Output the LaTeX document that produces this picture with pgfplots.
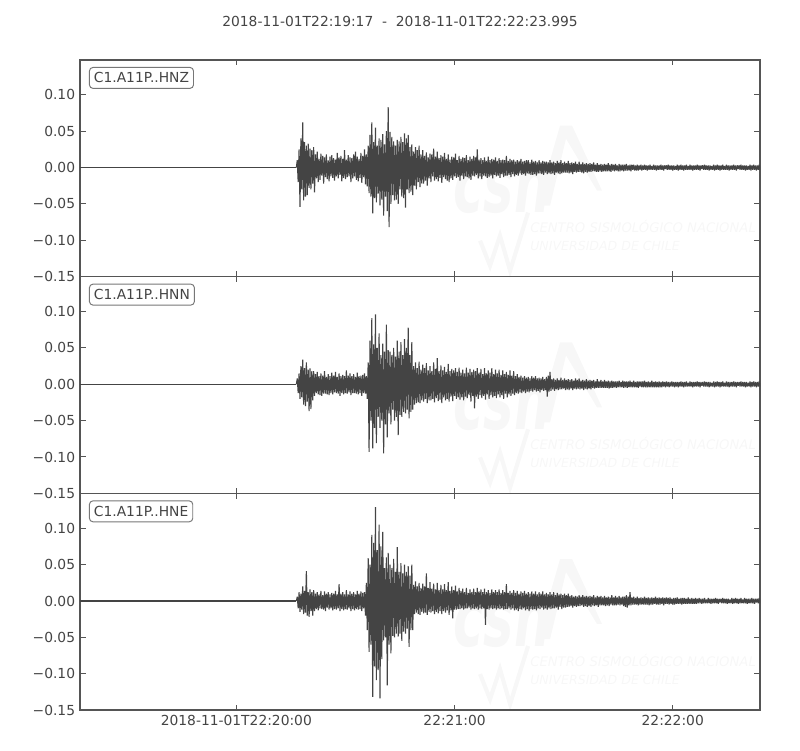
\documentclass[border=0pt]{standalone}
\usepackage{fontspec}
\setmainfont{DejaVu Sans}
\usepackage{pgfplots}
\usepackage{pgfplotstable}
\pgfplotsset{compat=1.18}

\definecolor{wavec}{HTML}{444444}
\definecolor{axc}{HTML}{555555}
\definecolor{txt}{HTML}{444444}
\definecolor{boxc}{HTML}{777777}
\definecolor{wm}{HTML}{F7F7F7}

% samples every 0.25 s from t = 59.5 s after 22:19:17, 20 samples (5 s) per line
\pgfplotstableread[row sep=\\,header=false]{
0\\ 0.010\\ -0.020\\ 0.025\\ -0.054\\ 0.040\\ -0.030\\ 0.062\\ -0.045\\ 0.035\\ -0.040\\ 0.030\\ -0.038\\ 0.033\\ -0.028\\ 0.026\\ -0.030\\ 0.024\\ -0.022\\ 0.028\\
-0.034\\ 0.018\\ -0.015\\ 0.022\\ -0.020\\ 0.012\\ -0.017\\ 0.019\\ -0.011\\ 0.016\\ -0.022\\ 0.014\\ -0.013\\ 0.018\\ -0.016\\ 0.010\\ -0.019\\ 0.015\\ -0.012\\ 0.017\\
-0.014\\ 0.013\\ -0.018\\ 0.011\\ -0.012\\ 0.020\\ -0.015\\ 0.014\\ -0.010\\ 0.016\\ -0.019\\ 0.012\\ -0.014\\ 0.024\\ -0.016\\ 0.011\\ -0.013\\ 0.017\\ -0.012\\ 0.014\\
-0.020\\ 0.013\\ -0.015\\ 0.018\\ -0.012\\ 0.022\\ -0.017\\ 0.015\\ -0.019\\ 0.012\\ -0.014\\ 0.020\\ -0.021\\ 0.016\\ -0.013\\ 0.025\\ -0.023\\ 0.018\\ -0.026\\ 0.030\\
-0.035\\ 0.045\\ -0.040\\ 0.062\\ -0.063\\ 0.035\\ -0.042\\ 0.055\\ -0.048\\ 0.030\\ -0.036\\ 0.040\\ -0.052\\ 0.038\\ -0.044\\ 0.046\\ -0.066\\ 0.032\\ -0.040\\ 0.050\\
-0.060\\ 0.083\\ -0.082\\ 0.049\\ -0.050\\ 0.042\\ -0.038\\ 0.036\\ -0.045\\ 0.030\\ -0.044\\ 0.038\\ -0.050\\ 0.036\\ -0.030\\ 0.042\\ -0.040\\ 0.035\\ -0.042\\ 0.047\\
-0.055\\ 0.040\\ -0.030\\ 0.045\\ -0.035\\ 0.028\\ -0.033\\ 0.032\\ -0.038\\ 0.022\\ -0.025\\ 0.028\\ -0.030\\ 0.024\\ -0.020\\ 0.030\\ -0.027\\ 0.018\\ -0.022\\ 0.024\\
-0.022\\ 0.016\\ -0.018\\ 0.021\\ -0.025\\ 0.014\\ -0.015\\ 0.019\\ -0.020\\ 0.018\\ -0.012\\ 0.026\\ -0.018\\ 0.015\\ -0.016\\ 0.022\\ -0.019\\ 0.013\\ -0.014\\ 0.017\\
-0.021\\ 0.015\\ -0.013\\ 0.020\\ -0.016\\ 0.012\\ -0.018\\ 0.018\\ -0.020\\ 0.011\\ -0.015\\ 0.015\\ -0.017\\ 0.014\\ -0.012\\ 0.019\\ -0.014\\ 0.010\\ -0.013\\ 0.016\\
-0.018\\ 0.012\\ -0.011\\ 0.014\\ -0.016\\ 0.013\\ -0.012\\ 0.017\\ -0.013\\ 0.010\\ -0.015\\ 0.015\\ -0.017\\ 0.012\\ -0.011\\ 0.016\\ -0.012\\ 0.014\\ -0.010\\ 0.025\\
-0.015\\ 0.011\\ -0.012\\ 0.013\\ -0.016\\ 0.010\\ -0.011\\ 0.014\\ -0.012\\ 0.009\\ -0.014\\ 0.015\\ -0.013\\ 0.010\\ -0.011\\ 0.012\\ -0.015\\ 0.011\\ -0.010\\ 0.014\\
-0.012\\ 0.009\\ -0.011\\ 0.013\\ -0.014\\ 0.010\\ -0.009\\ 0.011\\ -0.013\\ 0.010\\ -0.011\\ 0.016\\ -0.011\\ 0.009\\ -0.010\\ 0.012\\ -0.013\\ 0.010\\ -0.009\\ 0.011\\
-0.012\\ 0.008\\ -0.010\\ 0.010\\ -0.011\\ 0.009\\ -0.008\\ 0.012\\ -0.010\\ 0.008\\ -0.009\\ 0.009\\ -0.011\\ 0.010\\ -0.008\\ 0.010\\ -0.009\\ 0.007\\ -0.010\\ 0.011\\
-0.010\\ 0.008\\ -0.009\\ 0.009\\ -0.011\\ 0.007\\ -0.008\\ 0.010\\ -0.008\\ 0.007\\ -0.009\\ 0.009\\ -0.010\\ 0.008\\ -0.007\\ 0.008\\ -0.009\\ 0.007\\ -0.008\\ 0.010\\
-0.009\\ 0.007\\ -0.008\\ 0.008\\ -0.010\\ 0.006\\ -0.007\\ 0.009\\ -0.008\\ 0.007\\ -0.009\\ 0.010\\ -0.008\\ 0.006\\ -0.007\\ 0.008\\ -0.007\\ 0.006\\ -0.007\\ 0.009\\
-0.008\\ 0.006\\ -0.007\\ 0.007\\ -0.009\\ 0.006\\ -0.006\\ 0.008\\ -0.007\\ 0.005\\ -0.006\\ 0.008\\ -0.006\\ 0.005\\ -0.007\\ 0.007\\ -0.008\\ 0.005\\ -0.006\\ 0.006\\
-0.007\\ 0.005\\ -0.006\\ 0.006\\ -0.006\\ 0.005\\ -0.005\\ 0.007\\ -0.005\\ 0.004\\ -0.006\\ 0.006\\ -0.006\\ 0.004\\ -0.005\\ 0.005\\ -0.006\\ 0.004\\ -0.005\\ 0.005\\
-0.005\\ 0.004\\ -0.005\\ 0.006\\ -0.005\\ 0.004\\ -0.006\\ 0.005\\ -0.004\\ 0.004\\ -0.005\\ 0.005\\ -0.004\\ 0.003\\ -0.005\\ 0.005\\ -0.005\\ 0.004\\ -0.004\\ 0.004\\
-0.005\\ 0.004\\ -0.004\\ 0.005\\ -0.004\\ 0.003\\ -0.004\\ 0.004\\ -0.005\\ 0.004\\ -0.003\\ 0.004\\ -0.004\\ 0.003\\ -0.004\\ 0.004\\ -0.004\\ 0.003\\ -0.003\\ 0.004\\
-0.004\\ 0.003\\ -0.003\\ 0.004\\ -0.003\\ 0.003\\ -0.004\\ 0.003\\ -0.003\\ 0.004\\ -0.003\\ 0.002\\ -0.003\\ 0.004\\ -0.003\\ 0.003\\ -0.004\\ 0.003\\ -0.003\\ 0.003\\
-0.003\\ 0.004\\ -0.003\\ 0.003\\ -0.004\\ 0.003\\ -0.002\\ 0.003\\ -0.003\\ 0.004\\ -0.003\\ 0.003\\ -0.003\\ 0.003\\ -0.004\\ 0.003\\ -0.003\\ 0.002\\ -0.003\\ 0.004\\
-0.004\\ 0.003\\ -0.003\\ 0.004\\ -0.003\\ 0.003\\ -0.004\\ 0.003\\ -0.003\\ 0.004\\ -0.003\\ 0.002\\ -0.003\\ 0.004\\ -0.003\\ 0.003\\ -0.004\\ 0.003\\ -0.003\\ 0.003\\
-0.003\\ 0.004\\ -0.003\\ 0.003\\ -0.004\\ 0.003\\ -0.002\\ 0.003\\ -0.003\\ 0.004\\ -0.003\\ 0.003\\ -0.003\\ 0.003\\ -0.004\\ 0.003\\ -0.003\\ 0.002\\ -0.003\\ 0.004\\
-0.004\\ 0.003\\ -0.003\\ 0.004\\ -0.003\\ 0.003\\ -0.004\\ 0.003\\ -0.003\\ 0.004\\ -0.003\\ 0.002\\ -0.003\\ 0.004\\ -0.003\\ 0.003\\ -0.004\\ 0.003\\ -0.003\\ 0.003\\
-0.003\\ 0.004\\ -0.003\\ 0.003\\ -0.004\\ 0.003\\ -0.002\\ 0.003\\ -0.003\\ 0.004\\ -0.003\\ 0.003\\ -0.003\\ 0.003\\ -0.004\\ 0.003\\ -0.003\\ 0.002\\ -0.003\\ 0.004\\
-0.004\\ 0.003\\ -0.003\\ 0.004\\ -0.003\\ 0.003\\ -0.004\\ 0.003\\ -0.003\\ 0.004\\ -0.003\\ 0.002\\ -0.003\\ 0.004\\ -0.003\\ 0.003\\ -0.004\\ 0.003\\ -0.003\\ 0.003\\
}\hnz

\pgfplotstableread[row sep=\\,header=false]{
0\\ 0.008\\ -0.012\\ 0.015\\ -0.020\\ 0.025\\ -0.018\\ 0.034\\ -0.028\\ 0.022\\ -0.030\\ 0.030\\ -0.024\\ 0.020\\ -0.037\\ 0.022\\ -0.034\\ 0.018\\ -0.022\\ 0.018\\
-0.016\\ 0.014\\ -0.012\\ 0.017\\ -0.014\\ 0.011\\ -0.015\\ 0.015\\ -0.016\\ 0.012\\ -0.013\\ 0.018\\ -0.013\\ 0.010\\ -0.014\\ 0.014\\ -0.015\\ 0.011\\ -0.012\\ 0.016\\
-0.014\\ 0.012\\ -0.011\\ 0.017\\ -0.012\\ 0.010\\ -0.013\\ 0.015\\ -0.016\\ 0.011\\ -0.012\\ 0.013\\ -0.014\\ 0.011\\ -0.012\\ 0.019\\ -0.013\\ 0.012\\ -0.011\\ 0.015\\
-0.015\\ 0.011\\ -0.012\\ 0.014\\ -0.012\\ 0.010\\ -0.013\\ 0.016\\ -0.014\\ 0.011\\ -0.012\\ 0.012\\ -0.016\\ 0.013\\ -0.012\\ 0.015\\ -0.013\\ 0.011\\ -0.020\\ 0.030\\
-0.093\\ 0.060\\ -0.050\\ 0.091\\ -0.088\\ 0.055\\ -0.060\\ 0.096\\ -0.081\\ 0.050\\ -0.045\\ 0.070\\ -0.060\\ 0.040\\ -0.050\\ 0.056\\ -0.095\\ 0.045\\ -0.055\\ 0.082\\
-0.073\\ 0.047\\ -0.040\\ 0.045\\ -0.055\\ 0.040\\ -0.035\\ 0.050\\ -0.050\\ 0.038\\ -0.045\\ 0.060\\ -0.070\\ 0.045\\ -0.042\\ 0.058\\ -0.045\\ 0.040\\ -0.038\\ 0.062\\
-0.040\\ 0.050\\ -0.035\\ 0.078\\ -0.047\\ 0.040\\ -0.038\\ 0.058\\ -0.035\\ 0.025\\ -0.028\\ 0.030\\ -0.026\\ 0.022\\ -0.025\\ 0.031\\ -0.026\\ 0.020\\ -0.022\\ 0.027\\
-0.024\\ 0.022\\ -0.020\\ 0.029\\ -0.026\\ 0.019\\ -0.022\\ 0.025\\ -0.022\\ 0.018\\ -0.020\\ 0.030\\ -0.025\\ 0.021\\ -0.019\\ 0.036\\ -0.023\\ 0.018\\ -0.021\\ 0.026\\
-0.026\\ 0.019\\ -0.018\\ 0.024\\ -0.022\\ 0.017\\ -0.020\\ 0.028\\ -0.024\\ 0.018\\ -0.017\\ 0.021\\ -0.023\\ 0.019\\ -0.016\\ 0.022\\ -0.020\\ 0.017\\ -0.018\\ 0.023\\
-0.021\\ 0.016\\ -0.018\\ 0.020\\ -0.022\\ 0.015\\ -0.017\\ 0.023\\ -0.019\\ 0.016\\ -0.015\\ 0.021\\ -0.024\\ 0.017\\ -0.016\\ 0.020\\ -0.033\\ 0.018\\ -0.017\\ 0.022\\
-0.020\\ 0.016\\ -0.015\\ 0.021\\ -0.019\\ 0.014\\ -0.016\\ 0.022\\ -0.021\\ 0.015\\ -0.014\\ 0.019\\ -0.020\\ 0.016\\ -0.015\\ 0.022\\ -0.018\\ 0.014\\ -0.016\\ 0.020\\
-0.019\\ 0.015\\ -0.014\\ 0.020\\ -0.018\\ 0.013\\ -0.015\\ 0.019\\ -0.020\\ 0.014\\ -0.013\\ 0.017\\ -0.018\\ 0.013\\ -0.014\\ 0.019\\ -0.016\\ 0.012\\ -0.013\\ 0.018\\
-0.015\\ 0.011\\ -0.012\\ 0.014\\ -0.013\\ 0.010\\ -0.011\\ 0.012\\ -0.012\\ 0.009\\ -0.010\\ 0.011\\ -0.012\\ 0.009\\ -0.010\\ 0.010\\ -0.011\\ 0.008\\ -0.009\\ 0.011\\
-0.010\\ 0.009\\ -0.008\\ 0.011\\ -0.010\\ 0.008\\ -0.009\\ 0.009\\ -0.011\\ 0.008\\ -0.008\\ 0.010\\ -0.009\\ 0.007\\ -0.008\\ 0.010\\ -0.017\\ 0.012\\ -0.010\\ 0.017\\
-0.009\\ 0.007\\ -0.007\\ 0.008\\ -0.009\\ 0.006\\ -0.007\\ 0.008\\ -0.008\\ 0.006\\ -0.007\\ 0.009\\ -0.007\\ 0.006\\ -0.006\\ 0.008\\ -0.008\\ 0.006\\ -0.007\\ 0.007\\
-0.008\\ 0.006\\ -0.006\\ 0.007\\ -0.008\\ 0.005\\ -0.006\\ 0.008\\ -0.007\\ 0.006\\ -0.006\\ 0.008\\ -0.007\\ 0.005\\ -0.006\\ 0.006\\ -0.008\\ 0.005\\ -0.006\\ 0.007\\
-0.007\\ 0.005\\ -0.006\\ 0.006\\ -0.007\\ 0.005\\ -0.005\\ 0.006\\ -0.006\\ 0.004\\ -0.005\\ 0.007\\ -0.005\\ 0.004\\ -0.005\\ 0.006\\ -0.005\\ 0.004\\ -0.005\\ 0.006\\
-0.005\\ 0.004\\ -0.005\\ 0.005\\ -0.006\\ 0.004\\ -0.005\\ 0.005\\ -0.005\\ 0.004\\ -0.004\\ 0.004\\ -0.005\\ 0.004\\ -0.004\\ 0.005\\ -0.004\\ 0.003\\ -0.004\\ 0.005\\
-0.005\\ 0.004\\ -0.004\\ 0.004\\ -0.005\\ 0.004\\ -0.004\\ 0.005\\ -0.004\\ 0.003\\ -0.004\\ 0.005\\ -0.004\\ 0.003\\ -0.004\\ 0.004\\ -0.005\\ 0.004\\ -0.003\\ 0.004\\
-0.004\\ 0.004\\ -0.004\\ 0.005\\ -0.004\\ 0.003\\ -0.004\\ 0.004\\ -0.004\\ 0.003\\ -0.004\\ 0.005\\ -0.004\\ 0.003\\ -0.004\\ 0.004\\ -0.004\\ 0.003\\ -0.004\\ 0.004\\
-0.004\\ 0.003\\ -0.004\\ 0.004\\ -0.003\\ 0.003\\ -0.004\\ 0.004\\ -0.003\\ 0.003\\ -0.004\\ 0.003\\ -0.003\\ 0.004\\ -0.003\\ 0.003\\ -0.004\\ 0.003\\ -0.003\\ 0.003\\
-0.004\\ 0.003\\ -0.003\\ 0.004\\ -0.003\\ 0.003\\ -0.004\\ 0.003\\ -0.003\\ 0.004\\ -0.003\\ 0.002\\ -0.003\\ 0.004\\ -0.003\\ 0.003\\ -0.004\\ 0.003\\ -0.003\\ 0.003\\
-0.003\\ 0.004\\ -0.003\\ 0.003\\ -0.004\\ 0.003\\ -0.002\\ 0.003\\ -0.003\\ 0.004\\ -0.003\\ 0.003\\ -0.003\\ 0.003\\ -0.004\\ 0.003\\ -0.003\\ 0.002\\ -0.003\\ 0.004\\
-0.004\\ 0.003\\ -0.003\\ 0.004\\ -0.003\\ 0.003\\ -0.004\\ 0.003\\ -0.003\\ 0.004\\ -0.003\\ 0.002\\ -0.003\\ 0.004\\ -0.003\\ 0.003\\ -0.004\\ 0.003\\ -0.003\\ 0.003\\
-0.003\\ 0.004\\ -0.003\\ 0.003\\ -0.004\\ 0.003\\ -0.002\\ 0.003\\ -0.003\\ 0.004\\ -0.003\\ 0.003\\ -0.003\\ 0.003\\ -0.004\\ 0.003\\ -0.003\\ 0.002\\ -0.003\\ 0.004\\
-0.004\\ 0.003\\ -0.003\\ 0.004\\ -0.003\\ 0.003\\ -0.004\\ 0.003\\ -0.003\\ 0.004\\ -0.003\\ 0.002\\ -0.003\\ 0.004\\ -0.003\\ 0.003\\ -0.004\\ 0.003\\ -0.003\\ 0.003\\
}\hnn

\pgfplotstableread[row sep=\\,header=false]{
0\\ 0.006\\ -0.010\\ 0.012\\ -0.015\\ 0.010\\ -0.012\\ 0.020\\ -0.018\\ 0.014\\ -0.016\\ 0.041\\ -0.020\\ 0.012\\ -0.022\\ 0.016\\ -0.014\\ 0.012\\ -0.020\\ 0.015\\
-0.014\\ 0.010\\ -0.011\\ 0.012\\ -0.013\\ 0.009\\ -0.010\\ 0.014\\ -0.011\\ 0.008\\ -0.012\\ 0.013\\ -0.014\\ 0.010\\ -0.009\\ 0.012\\ -0.012\\ 0.009\\ -0.010\\ 0.011\\
-0.013\\ 0.010\\ -0.011\\ 0.014\\ -0.012\\ 0.009\\ -0.010\\ 0.023\\ -0.014\\ 0.010\\ -0.011\\ 0.012\\ -0.013\\ 0.009\\ -0.011\\ 0.015\\ -0.012\\ 0.009\\ -0.010\\ 0.013\\
-0.014\\ 0.010\\ -0.011\\ 0.012\\ -0.013\\ 0.009\\ -0.011\\ 0.014\\ -0.012\\ 0.010\\ -0.011\\ 0.013\\ -0.014\\ 0.011\\ -0.010\\ 0.012\\ -0.020\\ 0.025\\ -0.040\\ 0.059\\
-0.070\\ 0.050\\ -0.060\\ 0.091\\ -0.132\\ 0.080\\ -0.090\\ 0.129\\ -0.109\\ 0.070\\ -0.095\\ 0.105\\ -0.134\\ 0.075\\ -0.080\\ 0.095\\ -0.054\\ 0.045\\ -0.050\\ 0.060\\
-0.116\\ 0.066\\ -0.060\\ 0.050\\ -0.072\\ 0.045\\ -0.048\\ 0.058\\ -0.050\\ 0.040\\ -0.045\\ 0.074\\ -0.049\\ 0.040\\ -0.045\\ 0.052\\ -0.055\\ 0.038\\ -0.042\\ 0.050\\
-0.045\\ 0.040\\ -0.038\\ 0.048\\ -0.063\\ 0.035\\ -0.040\\ 0.050\\ -0.040\\ 0.022\\ -0.018\\ 0.027\\ -0.016\\ 0.020\\ -0.018\\ 0.025\\ -0.019\\ 0.018\\ -0.015\\ 0.024\\
-0.017\\ 0.020\\ -0.016\\ 0.038\\ -0.019\\ 0.018\\ -0.015\\ 0.026\\ -0.016\\ 0.017\\ -0.014\\ 0.024\\ -0.018\\ 0.016\\ -0.015\\ 0.025\\ -0.017\\ 0.015\\ -0.014\\ 0.022\\
-0.018\\ 0.016\\ -0.014\\ 0.023\\ -0.016\\ 0.015\\ -0.013\\ 0.026\\ -0.019\\ 0.014\\ -0.013\\ 0.020\\ -0.024\\ 0.015\\ -0.012\\ 0.021\\ -0.012\\ 0.013\\ -0.011\\ 0.018\\
-0.011\\ 0.014\\ -0.010\\ 0.017\\ -0.012\\ 0.012\\ -0.010\\ 0.018\\ -0.010\\ 0.011\\ -0.009\\ 0.016\\ -0.012\\ 0.012\\ -0.010\\ 0.017\\ -0.011\\ 0.012\\ -0.010\\ 0.018\\
-0.012\\ 0.013\\ -0.010\\ 0.016\\ -0.011\\ 0.012\\ -0.010\\ 0.017\\ -0.033\\ 0.012\\ -0.011\\ 0.015\\ -0.012\\ 0.011\\ -0.010\\ 0.016\\ -0.011\\ 0.012\\ -0.010\\ 0.015\\
-0.012\\ 0.012\\ -0.010\\ 0.016\\ -0.011\\ 0.011\\ -0.010\\ 0.015\\ -0.012\\ 0.012\\ -0.011\\ 0.023\\ -0.011\\ 0.011\\ -0.010\\ 0.014\\ -0.012\\ 0.011\\ -0.010\\ 0.015\\
-0.013\\ 0.011\\ -0.012\\ 0.014\\ -0.014\\ 0.010\\ -0.011\\ 0.013\\ -0.012\\ 0.011\\ -0.010\\ 0.014\\ -0.013\\ 0.010\\ -0.011\\ 0.012\\ -0.014\\ 0.010\\ -0.011\\ 0.013\\
-0.012\\ 0.010\\ -0.011\\ 0.013\\ -0.013\\ 0.009\\ -0.010\\ 0.012\\ -0.011\\ 0.010\\ -0.009\\ 0.013\\ -0.012\\ 0.009\\ -0.010\\ 0.011\\ -0.012\\ 0.009\\ -0.010\\ 0.012\\
-0.011\\ 0.009\\ -0.010\\ 0.012\\ -0.010\\ 0.008\\ -0.009\\ 0.011\\ -0.012\\ 0.009\\ -0.008\\ 0.010\\ -0.011\\ 0.008\\ -0.009\\ 0.010\\ -0.009\\ 0.008\\ -0.008\\ 0.010\\
-0.008\\ 0.007\\ -0.007\\ 0.008\\ -0.009\\ 0.006\\ -0.007\\ 0.007\\ -0.008\\ 0.006\\ -0.007\\ 0.008\\ -0.007\\ 0.006\\ -0.006\\ 0.008\\ -0.008\\ 0.006\\ -0.007\\ 0.007\\
-0.008\\ 0.006\\ -0.007\\ 0.007\\ -0.008\\ 0.006\\ -0.006\\ 0.008\\ -0.007\\ 0.005\\ -0.006\\ 0.007\\ -0.008\\ 0.006\\ -0.006\\ 0.007\\ -0.006\\ 0.005\\ -0.006\\ 0.007\\
-0.007\\ 0.005\\ -0.006\\ 0.006\\ -0.007\\ 0.005\\ -0.005\\ 0.008\\ -0.006\\ 0.005\\ -0.006\\ 0.007\\ -0.006\\ 0.005\\ -0.005\\ 0.007\\ -0.006\\ 0.005\\ -0.005\\ 0.006\\
-0.007\\ 0.006\\ -0.008\\ 0.008\\ -0.009\\ 0.006\\ -0.006\\ 0.012\\ -0.006\\ 0.005\\ -0.005\\ 0.006\\ -0.005\\ 0.004\\ -0.005\\ 0.006\\ -0.006\\ 0.004\\ -0.005\\ 0.005\\
-0.005\\ 0.004\\ -0.005\\ 0.006\\ -0.005\\ 0.004\\ -0.005\\ 0.005\\ -0.006\\ 0.004\\ -0.005\\ 0.005\\ -0.005\\ 0.004\\ -0.004\\ 0.006\\ -0.005\\ 0.004\\ -0.005\\ 0.005\\
-0.005\\ 0.004\\ -0.004\\ 0.005\\ -0.006\\ 0.004\\ -0.004\\ 0.005\\ -0.004\\ 0.004\\ -0.005\\ 0.005\\ -0.004\\ 0.003\\ -0.005\\ 0.004\\ -0.005\\ 0.004\\ -0.004\\ 0.005\\
-0.004\\ 0.003\\ -0.004\\ 0.004\\ -0.005\\ 0.004\\ -0.004\\ 0.004\\ -0.004\\ 0.003\\ -0.004\\ 0.005\\ -0.004\\ 0.003\\ -0.004\\ 0.004\\ -0.004\\ 0.003\\ -0.004\\ 0.004\\
-0.004\\ 0.003\\ -0.003\\ 0.004\\ -0.003\\ 0.003\\ -0.004\\ 0.003\\ -0.003\\ 0.004\\ -0.003\\ 0.002\\ -0.003\\ 0.004\\ -0.003\\ 0.003\\ -0.004\\ 0.003\\ -0.003\\ 0.003\\
-0.003\\ 0.004\\ -0.003\\ 0.003\\ -0.004\\ 0.003\\ -0.002\\ 0.003\\ -0.003\\ 0.004\\ -0.003\\ 0.003\\ -0.003\\ 0.003\\ -0.004\\ 0.003\\ -0.003\\ 0.002\\ -0.003\\ 0.004\\
-0.004\\ 0.003\\ -0.003\\ 0.004\\ -0.003\\ 0.003\\ -0.004\\ 0.003\\ -0.003\\ 0.004\\ -0.003\\ 0.002\\ -0.003\\ 0.004\\ -0.003\\ 0.003\\ -0.004\\ 0.003\\ -0.003\\ 0.003\\
-0.003\\ 0.004\\ -0.003\\ 0.003\\ -0.004\\ 0.003\\ -0.002\\ 0.003\\ -0.003\\ 0.004\\ -0.003\\ 0.003\\ -0.003\\ 0.003\\ -0.004\\ 0.003\\ -0.003\\ 0.002\\ -0.003\\ 0.004\\
}\hne

% faint agency watermark, drawn relative to one panel's lower left corner
\newcommand{\watermark}{%
  \fill[wm] (330.3pt,51.3pt) -- (346.9pt,109.1pt) -- (355.6pt,109.1pt) -- (377.2pt,62.2pt)
    -- (373.6pt,62.2pt) -- (351.2pt,99.7pt) -- (339.7pt,51.3pt) -- cycle;
  \draw[wm, line width=3pt] (289.1pt,26pt) -- (296.3pt,7.9pt) -- (303.5pt,29.6pt)
    -- (310.8pt,4.3pt) -- (323.8pt,46.3pt);
  \node[text=wm, inner sep=0pt] at (305pt,62.2pt) {\resizebox{70pt}{33pt}{\bfseries\itshape csn}};
  \node[text=wm, inner sep=0pt, anchor=base west] at (325.2pt,31.8pt)
    {\resizebox{163pt}{!}{\itshape CENTRO SISMOLÓGICO NACIONAL}};
  \node[text=wm, inner sep=0pt, anchor=base west] at (325.2pt,18.8pt)
    {\resizebox{108pt}{!}{\itshape UNIVERSIDAD DE CHILE}};
}

\pgfplotsset{
  seis/.style={
    scale only axis, width=491.4pt, height=156.6pt,
    xmin=0, xmax=186.995, ymin=-0.15, ymax=0.148,
    xtick={43,103,163}, xticklabels={},
    ytick={-0.15,-0.1,-0.05,0,0.05,0.1},
    yticklabels={−0.15,−0.10,−0.05,0.00,0.05,0.10},
    tick align=inside, xtick pos=both, ytick pos=both,
    major tick length=4pt,
    axis line style={axc, line width=0.9pt},
    every tick/.style={axc, line width=0.7pt},
    tick label style={font=\fontsize{10}{12}\selectfont, text=txt},
  },
}
\tikzset{
  trace/.style={color=wavec, line width=0.8pt, line join=bevel},
  lbl/.style={draw=boxc, line width=0.7pt, rounded corners=2.5pt, fill=white, text=txt,
    font=\fontsize{10}{12}\selectfont, inner xsep=3.2pt, inner ysep=3.9pt,
    text height=7.3pt, text depth=0pt, anchor=north west, xshift=6.5pt, yshift=-5.1pt},
}

\begin{document}
\begin{tikzpicture}
\path (-57.8pt,-28.9pt) rectangle (520.3pt,513.1pt);
\foreach \dy in {0,156.6,313.2}{%
  \begin{scope}[yshift=\dy pt]\watermark\end{scope}}

\node[text=txt, font=\fontsize{10}{12}\selectfont, anchor=base] at (231.3pt,494.3pt)
  {2018-11-01T22:19:17\ \ -\ \ 2018-11-01T22:22:23.995};

\begin{axis}[seis, at={(0pt,313.2pt)}, anchor=south west]
\addplot[trace] coordinates {(0,0) (59.5,0)};
\addplot[trace] table[x expr=59.5+0.25*\coordindex, y index=0] {\hnz};
\node[lbl] at (rel axis cs:0,1) {C1.A11P..HNZ};
\end{axis}

\begin{axis}[seis, at={(0pt,156.6pt)}, anchor=south west]
\addplot[trace] coordinates {(0,0) (59.5,0)};
\addplot[trace] table[x expr=59.5+0.25*\coordindex, y index=0] {\hnn};
\node[lbl] at (rel axis cs:0,1) {C1.A11P..HNN};
\end{axis}

\begin{axis}[seis, at={(0pt,0pt)}, anchor=south west,
  xticklabels={2018-11-01T22:20:00,22:21:00,22:22:00}]
\addplot[trace] coordinates {(0,0) (59.5,0)};
\addplot[trace] table[x expr=59.5+0.25*\coordindex, y index=0] {\hne};
\node[lbl] at (rel axis cs:0,1) {C1.A11P..HNE};
\end{axis}
\end{tikzpicture}
\end{document}
